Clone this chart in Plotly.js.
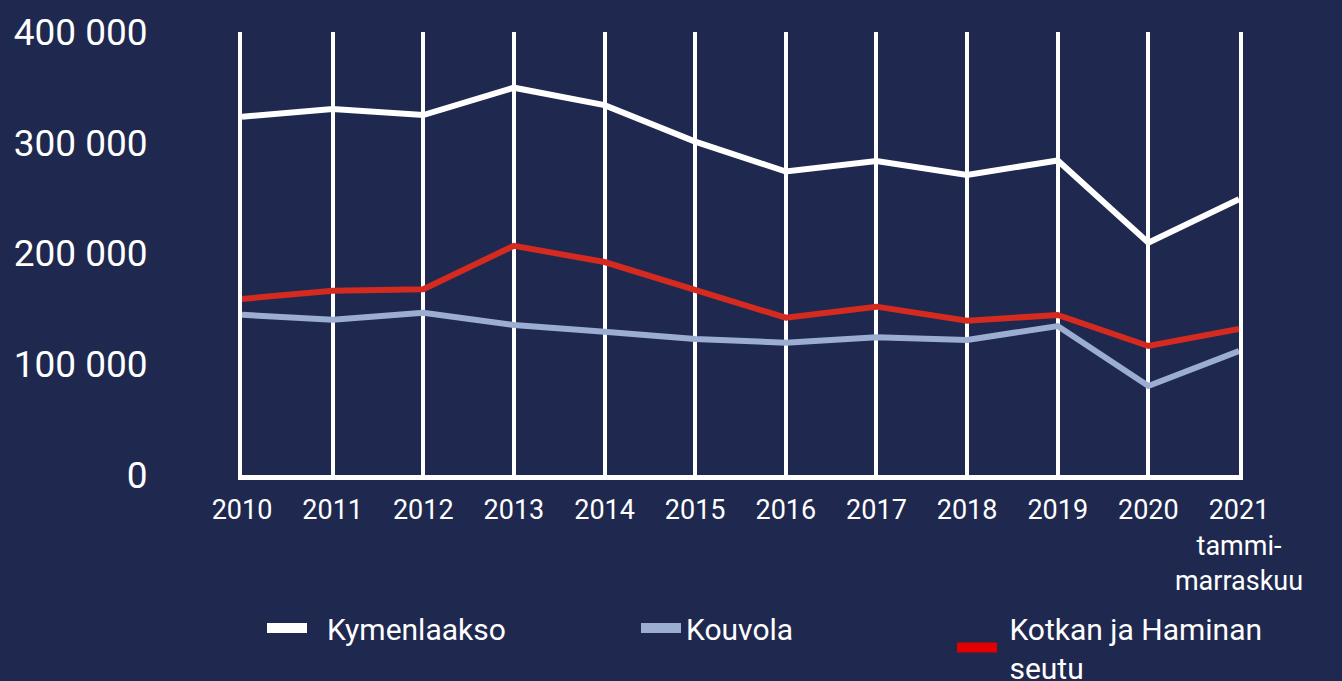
<!DOCTYPE html>
<html>
<head>
<meta charset="utf-8">
<script src="https://cdn.plot.ly/plotly-3.0.1.min.js"></script>
<style>
html,body{margin:0;padding:0;background:#1f294f;}
#chart{width:1342px;height:681px;}
</style>
</head>
<body>
<div id="chart"></div>
<script>
const years = [2010, 2011, 2012, 2013, 2014, 2015, 2016, 2017, 2018, 2019, 2020, 2021];
const yearLabels = ["2010", "2011", "2012", "2013", "2014", "2015", "2016", "2017", "2018", "2019", "2020", "2021<br>tammi-<br>marraskuu"];
const kymenlaakso = [323500, 330500, 325000, 349700, 334000, 301000, 274000, 283500, 271000, 284000, 209800, 249000];
const kouvola = [144700, 140200, 146500, 135400, 129400, 122800, 119500, 124300, 121900, 134500, 80400, 112000];
const kotkaHamina = [159000, 166400, 167700, 207000, 192300, 167000, 142000, 152000, 139300, 144500, 116500, 131800];
const yTicks = [0, 100000, 200000, 300000, 400000];
const yTickLabels = ["0", "100 000", "200 000", "300 000", "400 000"];

const names = ["Kymenlaakso", "Kouvola", "Kotkan ja Haminan<br>seutu"];
const legendNames = ["\u00a0\u00a0Kymenlaakso", "Kouvola", "\u00a0Kotkan ja Haminan<br>\u00a0seutu"];
const lineColors = ["#ffffff", "#9baed2", "#d42a1f"];
const legendColors = ["#ffffff", "#9baed2", "#e00000"];
const legendWidths = [319, 261, 300];

const dataTraces = [kymenlaakso, kouvola, kotkaHamina].map((vals, i) => ({
  x: years,
  y: vals,
  type: "scatter",
  mode: "lines",
  name: names[i],
  showlegend: false,
  line: {color: lineColors[i], width: 6},
  hoverinfo: "x+y"
}));

// legend-only entries (no drawn data) so the legend swatch can be thicker
const legendTraces = legendNames.map((n, i) => ({
  x: [null],
  y: [null],
  type: "scatter",
  mode: "lines",
  name: n,
  showlegend: true,
  legendwidth: legendWidths[i],
  line: {color: legendColors[i], width: 14}
}));

const layout = {
  width: 1342,
  height: 681,
  paper_bgcolor: "#1f294f",
  plot_bgcolor: "#1f294f",
  font: {family: "Roboto, sans-serif", color: "#ffffff"},
  margin: {l: 242, r: 103, t: 32, b: 206, autoexpand: false},
  xaxis: {
    range: [2010, 2021],
    tickvals: years,
    ticktext: yearLabels,
    tickangle: 0,
    showgrid: true,
    gridcolor: "#ffffff",
    gridwidth: 4,
    zeroline: false,
    showline: true,
    linecolor: "#ffffff",
    linewidth: 5,
    ticks: "",
    ticklabelstandoff: 7,
    tickfont: {size: 27, color: "#ffffff"},
    fixedrange: true
  },
  yaxis: {
    range: [0, 400000],
    tickvals: yTicks,
    ticktext: yTickLabels,
    showgrid: false,
    zeroline: false,
    showline: true,
    mirror: true,
    linecolor: "#ffffff",
    linewidth: 4,
    ticks: "",
    ticklabelstandoff: 83,
    tickfont: {size: 37, color: "#ffffff"},
    fixedrange: true
  },
  showlegend: true,
  legend: {
    orientation: "h",
    x: -0.001, xanchor: "left",
    y: -0.239, yanchor: "top",
    font: {size: 30, color: "#ffffff"},
    bgcolor: "rgba(0,0,0,0)",
    bordercolor: "rgba(0,0,0,0)",
    borderwidth: 21,
    itemwidth: 40,
    valign: "middle"
  }
};

Plotly.newPlot("chart", dataTraces.concat(legendTraces), layout, {displayModeBar: false, staticPlot: true});
</script>
</body>
</html>
